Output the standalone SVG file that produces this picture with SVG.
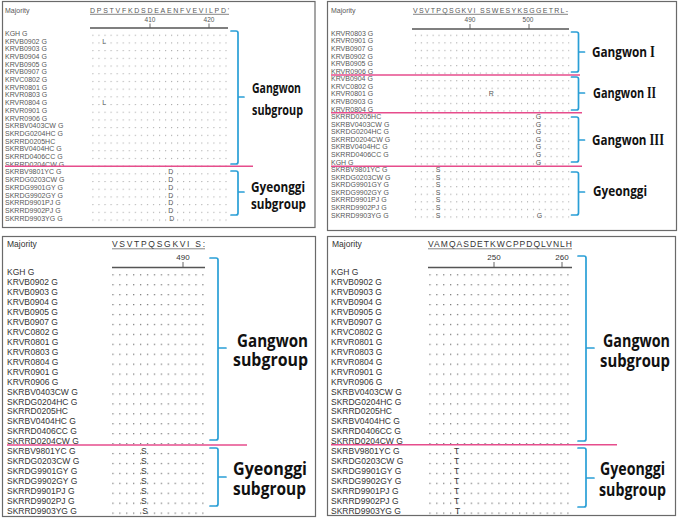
<svg xmlns="http://www.w3.org/2000/svg" width="679" height="522" viewBox="0 0 679 522">
<style>
.pn{fill:#fff;stroke:#6a6a6a;stroke-width:1.2}
.s7{font-family:"Liberation Sans",Arial,sans-serif;font-size:7px;fill:#585858}
.s9{font-family:"Liberation Sans",Arial,sans-serif;font-size:8.5px;fill:#333}
.n7{font-family:"Liberation Sans",Arial,sans-serif;font-size:6.5px;fill:#585858;text-anchor:middle}
.n9{font-family:"Liberation Sans",Arial,sans-serif;font-size:8px;fill:#333;text-anchor:middle}
.m{text-anchor:middle}
.ul{stroke:#666;stroke-width:0.8}
.ru{stroke:#555;stroke-width:1.3;fill:none}
.tk{stroke:#555;stroke-width:0.9}
.pk{stroke:#e64d8c;stroke-width:1.6;fill:none}
.br{stroke:#2a9fd6;stroke-width:1.7;fill:none;stroke-linecap:round;stroke-linejoin:round}
.lb{font-family:"Open Sans","Noto Sans",sans-serif;font-weight:700;fill:#111}
.rn{font-family:"Liberation Serif","Times New Roman",serif;font-weight:700}
.l15{font-size:15px}
.l18{font-size:17.5px}
</style>
<defs>
<pattern id="dTL" patternUnits="userSpaceOnUse" x="92.4" y="34.7" width="6.05" height="7.7"><circle cx="0.6" cy="0.6" r="0.55" fill="#909090"/></pattern>
<pattern id="dTR" patternUnits="userSpaceOnUse" x="414.9" y="34.7" width="5.9" height="7.57"><circle cx="0.6" cy="0.6" r="0.55" fill="#909090"/></pattern>
<pattern id="dBL" patternUnits="userSpaceOnUse" x="112.3" y="274.2" width="6.92" height="9.93"><circle cx="0.7" cy="0.7" r="0.65" fill="#555"/></pattern>
<pattern id="dBR" patternUnits="userSpaceOnUse" x="429.3" y="274.2" width="6.9" height="9.93"><circle cx="0.7" cy="0.7" r="0.65" fill="#555"/></pattern>
</defs>

<g id="panel-top-left">
<rect class="pn" x="2.5" y="1.5" width="312.5" height="226"/>
<text class="s7" x="5" y="13">Majority</text>
<text class="s7" x="90" y="12.7" textLength="139">DPSTVFKDSDEAENFVEVILPD'</text>
<line class="ul" x1="90" y1="14.3" x2="229" y2="14.3"/>
<text class="n7" x="150" y="21.7">410</text>
<text class="n7" x="209" y="21.7">420</text>
<line class="tk" x1="150" y1="23.5" x2="150" y2="28"/>
<line class="tk" x1="209" y1="23.5" x2="209" y2="28"/>
<line class="ru" x1="90" y1="28" x2="228" y2="28"/>
<text class="s7">
<tspan x="5" y="35.8">KGH G</tspan>
<tspan x="5" y="43.5">KRVB0902 G</tspan>
<tspan x="5" y="51.2">KRVB0903 G</tspan>
<tspan x="5" y="58.9">KRVB0904 G</tspan>
<tspan x="5" y="66.6">KRVB0905 G</tspan>
<tspan x="5" y="74.3">KRVB0907 G</tspan>
<tspan x="5" y="82">KRVC0802 G</tspan>
<tspan x="5" y="89.7">KRVR0801 G</tspan>
<tspan x="5" y="97.4">KRVR0803 G</tspan>
<tspan x="5" y="105.1">KRVR0804 G</tspan>
<tspan x="5" y="112.8">KRVR0901 G</tspan>
<tspan x="5" y="120.5">KRVR0906 G</tspan>
<tspan x="5" y="128.2">SKRBV0403CW G</tspan>
<tspan x="5" y="135.9">SKRDG0204HC G</tspan>
<tspan x="5" y="143.6">SKRRD0205HC</tspan>
<tspan x="5" y="151.3">SKRBV0404HC G</tspan>
<tspan x="5" y="159">SKRRD0406CC G</tspan>
<tspan x="5" y="166.7">SKRRD0204CW G</tspan>
<tspan x="5" y="174.4">SKRBV9801YC G</tspan>
<tspan x="5" y="182.1">SKRDG0203CW G</tspan>
<tspan x="5" y="189.8">SKRDG9901GY G</tspan>
<tspan x="5" y="197.5">SKRDG9902GY G</tspan>
<tspan x="5" y="205.2">SKRRD9901PJ G</tspan>
<tspan x="5" y="212.9">SKRRD9902PJ G</tspan>
<tspan x="5" y="220.6">SKRRD9903YG G</tspan>
</text>
<rect x="92" y="34" width="135" height="188" fill="url(#dTL)"/>
<text class="s7 m">
<tspan x="105" y="43.5">L</tspan>
<tspan x="105" y="105.1">L</tspan>
<tspan x="171.7" y="174.4">D</tspan>
<tspan x="171.7" y="182.1">D</tspan>
<tspan x="171.7" y="189.8">D</tspan>
<tspan x="171.7" y="197.5">D</tspan>
<tspan x="171.7" y="205.2">D</tspan>
<tspan x="171.7" y="212.9">D</tspan>
<tspan x="171.7" y="220.6">D</tspan>
</text>
<text class="lb l15" x="252" y="93" textLength="49" lengthAdjust="spacingAndGlyphs">Gangwon</text>
<text class="lb l15" x="252" y="114.5" textLength="51" lengthAdjust="spacingAndGlyphs">subgroup</text>
<text class="lb l15" x="251" y="191.5" textLength="54" lengthAdjust="spacingAndGlyphs">Gyeonggi</text>
<text class="lb l15" x="251" y="209" textLength="55" lengthAdjust="spacingAndGlyphs">subgroup</text>
</g>

<g id="panel-top-right">
<rect class="pn" x="327.5" y="1.5" width="349" height="229"/>
<text class="s7" x="331" y="13">Majority</text>
<text class="s7" x="413" y="12.7" textLength="155">VSVTPQSGKVI SSWESYKSGGETRL-</text>
<line class="ul" x1="413" y1="14.3" x2="568" y2="14.3"/>
<text class="n7" x="470" y="21.7">490</text>
<text class="n7" x="528" y="21.7">500</text>
<line class="tk" x1="470" y1="24" x2="470" y2="29"/>
<line class="tk" x1="529" y1="24" x2="529" y2="29"/>
<line class="ru" x1="412" y1="29" x2="569" y2="29"/>
<text class="s7">
<tspan x="331" y="35.8">KRVR0803 G</tspan>
<tspan x="331" y="43.4">KRVR0901 G</tspan>
<tspan x="331" y="50.9">KRVB0907 G</tspan>
<tspan x="331" y="58.5">KRVB0902 G</tspan>
<tspan x="331" y="66.1">KRVB0905 G</tspan>
<tspan x="331" y="73.7">KRVR0906 G</tspan>
<tspan x="331" y="81.2">KRVB0904 G</tspan>
<tspan x="331" y="88.8">KRVC0802 G</tspan>
<tspan x="331" y="96.4">KRVR0801 G</tspan>
<tspan x="331" y="103.9">KRVB0903 G</tspan>
<tspan x="331" y="111.5">KRVR0804 G</tspan>
<tspan x="331" y="119.1">SKRRD0205HC</tspan>
<tspan x="331" y="126.6">SKRBV0403CW G</tspan>
<tspan x="331" y="134.2">SKRDG0204HC G</tspan>
<tspan x="331" y="141.8">SKRRD0204CW G</tspan>
<tspan x="331" y="149.4">SKRBV0404HC G</tspan>
<tspan x="331" y="156.9">SKRRD0406CC G</tspan>
<tspan x="331" y="164.5">KGH G</tspan>
<tspan x="331" y="172.1">SKRBV9801YC G</tspan>
<tspan x="331" y="179.6">SKRDG0203CW G</tspan>
<tspan x="331" y="187.2">SKRDG9901GY G</tspan>
<tspan x="331" y="194.8">SKRDG9902GY G</tspan>
<tspan x="331" y="202.3">SKRRD9901PJ G</tspan>
<tspan x="331" y="209.9">SKRRD9902PJ G</tspan>
<tspan x="331" y="217.5">SKRRD9903YG G</tspan>
</text>
<rect x="414.5" y="34" width="155" height="185" fill="url(#dTR)"/>
<text class="s7 m">
<tspan x="492.2" y="96.4">R</tspan>
<tspan x="539.4" y="119.1">G</tspan>
<tspan x="539.4" y="126.6">G</tspan>
<tspan x="539.4" y="134.2">G</tspan>
<tspan x="539.4" y="141.8">G</tspan>
<tspan x="539.4" y="149.4">G</tspan>
<tspan x="539.4" y="156.9">G</tspan>
<tspan x="539.4" y="164.5">G</tspan>
<tspan x="439.1" y="172.1">S</tspan>
<tspan x="439.1" y="179.6">S</tspan>
<tspan x="439.1" y="187.2">S</tspan>
<tspan x="439.1" y="194.8">S</tspan>
<tspan x="439.1" y="202.3">S</tspan>
<tspan x="439.1" y="209.9">S</tspan>
<tspan x="439.1" y="217.5">S</tspan>
<tspan x="539.4" y="217.5">G</tspan>
</text>
<text class="lb l15" x="592" y="56.5" textLength="63" lengthAdjust="spacingAndGlyphs">Gangwon <tspan class="rn" font-size="16">I</tspan></text>
<text class="lb l15" x="593" y="98" textLength="63" lengthAdjust="spacingAndGlyphs">Gangwon <tspan class="rn" font-size="16">II</tspan></text>
<text class="lb l15" x="592" y="145" textLength="72" lengthAdjust="spacingAndGlyphs">Gangwon <tspan class="rn" font-size="16">III</tspan></text>
<text class="lb l15" x="593" y="196" textLength="54" lengthAdjust="spacingAndGlyphs">Gyeonggi</text>
</g>

<g id="panel-bottom-left">
<rect class="pn" x="2.5" y="236.5" width="313" height="280"/>
<text class="s9" x="7" y="246.5">Majority</text>
<text class="s9" x="112" y="246.5" textLength="93">VSVTPQSGKVI S:</text>
<line class="ul" x1="112" y1="248.8" x2="205" y2="248.8"/>
<text class="n9" x="183" y="260">490</text>
<line class="tk" x1="183" y1="262" x2="183" y2="267.5"/>
<line class="ru" x1="112" y1="267.5" x2="205" y2="267.5"/>
<text class="s9">
<tspan x="7" y="275.4">KGH G</tspan>
<tspan x="7" y="285.3">KRVB0902 G</tspan>
<tspan x="7" y="295.3">KRVB0903 G</tspan>
<tspan x="7" y="305.2">KRVB0904 G</tspan>
<tspan x="7" y="315.1">KRVB0905 G</tspan>
<tspan x="7" y="325.1">KRVB0907 G</tspan>
<tspan x="7" y="335">KRVC0802 G</tspan>
<tspan x="7" y="344.9">KRVR0801 G</tspan>
<tspan x="7" y="354.8">KRVR0803 G</tspan>
<tspan x="7" y="364.8">KRVR0804 G</tspan>
<tspan x="7" y="374.7">KRVR0901 G</tspan>
<tspan x="7" y="384.6">KRVR0906 G</tspan>
<tspan x="7" y="394.6">SKRBV0403CW G</tspan>
<tspan x="7" y="404.5">SKRDG0204HC G</tspan>
<tspan x="7" y="414.4">SKRRD0205HC</tspan>
<tspan x="7" y="424.4">SKRBV0404HC G</tspan>
<tspan x="7" y="434.3">SKRRD0406CC G</tspan>
<tspan x="7" y="444.2">SKRRD0204CW G</tspan>
<tspan x="7" y="454.1">SKRBV9801YC G</tspan>
<tspan x="7" y="464.1">SKRDG0203CW G</tspan>
<tspan x="7" y="474">SKRDG9901GY G</tspan>
<tspan x="7" y="483.9">SKRDG9902GY G</tspan>
<tspan x="7" y="493.9">SKRRD9901PJ G</tspan>
<tspan x="7" y="503.8">SKRRD9902PJ G</tspan>
<tspan x="7" y="513.7">SKRRD9903YG G</tspan>
</text>
<rect x="112" y="273.5" width="92" height="242" fill="url(#dBL)"/>
<text class="s9 m">
<tspan x="145" y="454.1">S</tspan>
<tspan x="145" y="464.1">S</tspan>
<tspan x="145" y="474">S</tspan>
<tspan x="145" y="483.9">S</tspan>
<tspan x="145" y="493.9">S</tspan>
<tspan x="145" y="503.8">S</tspan>
<tspan x="145" y="513.7">S</tspan>
</text>
<text class="lb l18" x="237" y="347" textLength="71" lengthAdjust="spacingAndGlyphs">Gangwon</text>
<text class="lb l18" x="233" y="366" textLength="75" lengthAdjust="spacingAndGlyphs">subgroup</text>
<text class="lb l18" x="233" y="475" textLength="74" lengthAdjust="spacingAndGlyphs">Gyeonggi</text>
<text class="lb l18" x="233" y="495" textLength="73" lengthAdjust="spacingAndGlyphs">subgroup</text>
</g>

<g id="panel-bottom-right">
<rect class="pn" x="327.5" y="236.5" width="348" height="279"/>
<text class="s9" x="332" y="246.5">Majority</text>
<text class="s9" x="428" y="246.5" textLength="144">VAMQASDETKWCPPDQLVNLH</text>
<line class="ul" x1="428" y1="248.8" x2="572" y2="248.8"/>
<text class="n9" x="494" y="260">250</text>
<text class="n9" x="562" y="260">260</text>
<line class="tk" x1="494" y1="262" x2="494" y2="267.5"/>
<line class="tk" x1="562" y1="262" x2="562" y2="267.5"/>
<line class="ru" x1="428" y1="267.5" x2="572" y2="267.5"/>
<text class="s9">
<tspan x="331" y="275.4">KGH G</tspan>
<tspan x="331" y="285.3">KRVB0902 G</tspan>
<tspan x="331" y="295.3">KRVB0903 G</tspan>
<tspan x="331" y="305.2">KRVB0904 G</tspan>
<tspan x="331" y="315.1">KRVB0905 G</tspan>
<tspan x="331" y="325.1">KRVB0907 G</tspan>
<tspan x="331" y="335">KRVC0802 G</tspan>
<tspan x="331" y="344.9">KRVR0801 G</tspan>
<tspan x="331" y="354.8">KRVR0803 G</tspan>
<tspan x="331" y="364.8">KRVR0804 G</tspan>
<tspan x="331" y="374.7">KRVR0901 G</tspan>
<tspan x="331" y="384.6">KRVR0906 G</tspan>
<tspan x="331" y="394.6">SKRBV0403CW G</tspan>
<tspan x="331" y="404.5">SKRDG0204HC G</tspan>
<tspan x="331" y="414.4">SKRRD0205HC</tspan>
<tspan x="331" y="424.4">SKRBV0404HC G</tspan>
<tspan x="331" y="434.3">SKRRD0406CC G</tspan>
<tspan x="331" y="444.2">SKRRD0204CW G</tspan>
<tspan x="331" y="454.1">SKRBV9801YC G</tspan>
<tspan x="331" y="464.1">SKRDG0203CW G</tspan>
<tspan x="331" y="474">SKRDG9901GY G</tspan>
<tspan x="331" y="483.9">SKRDG9902GY G</tspan>
<tspan x="331" y="493.9">SKRRD9901PJ G</tspan>
<tspan x="331" y="503.8">SKRRD9902PJ G</tspan>
<tspan x="331" y="513.7">SKRRD9903YG G</tspan>
</text>
<rect x="429" y="273.5" width="140" height="242" fill="url(#dBR)"/>
<text class="s9 m">
<tspan x="457.6" y="454.1">T</tspan>
<tspan x="457.6" y="464.1">T</tspan>
<tspan x="457.6" y="474">T</tspan>
<tspan x="457.6" y="483.9">T</tspan>
<tspan x="457.6" y="493.9">T</tspan>
<tspan x="457.6" y="503.8">T</tspan>
<tspan x="457.6" y="513.7">T</tspan>
</text>
<text class="lb l18" x="603" y="347" textLength="67" lengthAdjust="spacingAndGlyphs">Gangwon</text>
<text class="lb l18" x="600" y="366.5" textLength="70" lengthAdjust="spacingAndGlyphs">subgroup</text>
<text class="lb l18" x="600" y="475" textLength="65" lengthAdjust="spacingAndGlyphs">Gyeonggi</text>
<text class="lb l18" x="599" y="496" textLength="67" lengthAdjust="spacingAndGlyphs">subgroup</text>
</g>

<g id="connectors">
<g id="divider-lines">
<line class="pk" x1="5" y1="166.3" x2="253" y2="166.3"/>
<line class="pk" x1="331" y1="75" x2="580" y2="75"/>
<line class="pk" x1="331" y1="112.8" x2="582" y2="112.8"/>
<line class="pk" x1="331" y1="166.3" x2="582" y2="166.3"/>
<line class="pk" x1="7" y1="445" x2="247" y2="445"/>
<line class="pk" x1="331" y1="444.8" x2="617" y2="444.8"/>
</g>
<g id="braces">
<path class="br" d="M231 31H236Q238 31 238 33V162Q238 164 236 164H231M238 97H244"/>
<path class="br" d="M231 171H236Q238 171 238 173V213Q238 215 236 215H231M238 192H244"/>
<path class="br" d="M571.5 32H576.5Q578.5 32 578.5 34V70Q578.5 72 576.5 72H571.5M578.5 52H584.5"/>
<path class="br" d="M571.5 77H576.5Q578.5 77 578.5 79V108Q578.5 110 576.5 110H571.5M578.5 93H584.5"/>
<path class="br" d="M571.5 117H576.5Q578.5 117 578.5 119V160Q578.5 162 576.5 162H571.5M578.5 140H584.5"/>
<path class="br" d="M571.5 172H576.5Q578.5 172 578.5 174V213Q578.5 215 576.5 215H571.5M578.5 192H584.5"/>
<path class="br" d="M210 258H216Q218 258 218 260V438Q218 440 216 440H210M218 348H226"/>
<path class="br" d="M210 448H216Q218 448 218 450V504Q218 506 216 506H210M218 477H226"/>
<path class="br" d="M578 256H584Q586 256 586 258V439Q586 441 584 441H578M586 348H594"/>
<path class="br" d="M578 448H584Q586 448 586 450V505Q586 507 584 507H578M586 478H594"/>
</g>
</g>
</svg>
